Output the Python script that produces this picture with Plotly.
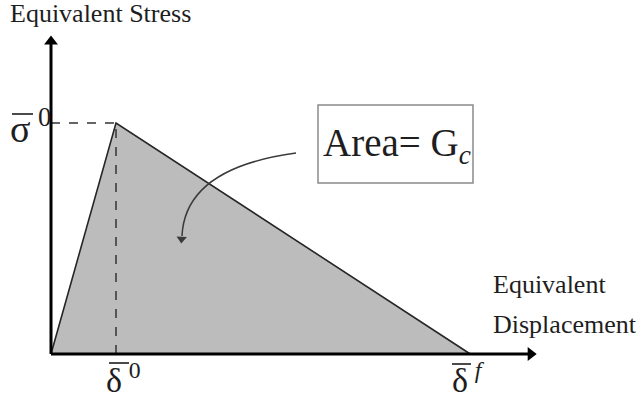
import plotly.graph_objects as go

# Bilinear traction-separation law (normalised units)
delta_0 = 1.0        # displacement at damage initiation
delta_f = 6.45       # displacement at complete failure
sigma_0 = 1.0        # peak equivalent stress

disp = [0.0, delta_0, delta_f, 0.0]
stress = [0.0, sigma_0, 0.0, 0.0]

# extent of the drawn axes (centre of the arrow heads)
x_axis_end = 7.38
y_axis_end = 1.353

SERIF = "Liberation Serif, Times New Roman, serif"
INK = "#1e1e1e"

W, H = 641, 402
# pixel -> data helpers for the decorative pointer
X0, KX = 51, 65
Y0, KY = 354, 231
to_dx = lambda p: (p - X0) / KX
to_dy = lambda p: (Y0 - p) / KY
px_x = lambda p: p / W
px_y = lambda p: 1 - p / H

fig = go.Figure()

# shaded triangle: area under the law equals the fracture energy
fig.add_trace(go.Scatter(
    x=disp, y=stress, mode="lines", fill="toself",
    fillcolor="#bcbcbc", line=dict(color="#262626", width=1.6),
    hoverinfo="skip", showlegend=False))

# dashed guides to the peak
fig.add_trace(go.Scatter(
    x=[0.0, delta_0], y=[sigma_0, sigma_0], mode="lines",
    line=dict(color="#333333", width=1.5, dash="dash"),
    hoverinfo="skip", showlegend=False))
fig.add_trace(go.Scatter(
    x=[delta_0, delta_0], y=[0.0, sigma_0], mode="lines",
    line=dict(color="#333333", width=1.5, dash="dash"),
    hoverinfo="skip", showlegend=False))

# axes with arrow heads
fig.add_trace(go.Scatter(
    x=[0.0, x_axis_end], y=[0.0, 0.0], mode="lines",
    line=dict(color="#000000", width=3), hoverinfo="skip", showlegend=False))
fig.add_trace(go.Scatter(
    x=[0.0, 0.0], y=[0.0, y_axis_end], mode="lines",
    line=dict(color="#000000", width=3), hoverinfo="skip", showlegend=False))
fig.add_trace(go.Scatter(
    x=[x_axis_end, 0.0], y=[0.0, y_axis_end], mode="markers",
    marker=dict(symbol=["triangle-right", "triangle-up"], size=12,
                color="#000000", line=dict(width=0)),
    hoverinfo="skip", showlegend=False))

# head of the curved pointer
fig.add_trace(go.Scatter(
    x=[to_dx(181.6)], y=[to_dy(239)], mode="markers",
    marker=dict(symbol="triangle-down", size=9, color="#3a3a3a",
                line=dict(width=0), angle=4),
    hoverinfo="skip", showlegend=False))


def label(text, x, y, size, anchor="left"):
    fig.add_annotation(x=px_x(x), y=px_y(y), xref="paper", yref="paper",
                       xanchor=anchor, yanchor="middle", showarrow=False,
                       text=text, font=dict(family=SERIF, size=size, color=INK))


label("Equivalent Stress", 8, 14, 26)
label("Equivalent", 491, 284, 26)
label("Displacement", 491, 324, 26)
label("σ\u2009<sup>0</sup>", 8, 126, 38)
label("δ\u2009<sup>0</sup>", 104, 378, 34)
label("δ\u2009<sup><i>f</i></sup>", 450, 378, 34)
label("Area= G<sub><i>c</i></sub>", 397, 145, 39, anchor="center")

bar = dict(color=INK, width=1.6)
shapes = [
    # label box
    dict(type="rect", xref="paper", yref="paper",
         x0=px_x(318), x1=px_x(473), y0=px_y(105), y1=px_y(183),
         line=dict(color="#8a8a8a", width=1.5), fillcolor="white", layer="above"),
    # curved pointer body
    dict(type="path", xref="paper", yref="paper",
         path=(f"M {px_x(296)},{px_y(153)} Q {px_x(185)},{px_y(168)} "
               f"{px_x(182)},{px_y(236)}"),
         line=dict(color="#3a3a3a", width=1.5), layer="above"),
    # overbars on the symbols
    dict(type="line", xref="paper", yref="paper",
         x0=px_x(12), x1=px_x(33), y0=px_y(114), y1=px_y(114), line=bar),
    dict(type="line", xref="paper", yref="paper",
         x0=px_x(109), x1=px_x(129), y0=px_y(363), y1=px_y(363), line=bar),
    dict(type="line", xref="paper", yref="paper",
         x0=px_x(452), x1=px_x(471), y0=px_y(364), y1=px_y(364), line=bar),
]

fig.update_layout(
    width=W, height=H,
    margin=dict(l=0, r=0, t=0, b=0),
    font=dict(family=SERIF, color=INK),
    paper_bgcolor="white", plot_bgcolor="white",
    xaxis=dict(range=[-X0 / KX, (W - X0) / KX], visible=False, fixedrange=True),
    yaxis=dict(range=[(Y0 - H) / KY, Y0 / KY], visible=False, fixedrange=True),
    shapes=shapes,
    showlegend=False,
)

fig.write_html("out.html")
